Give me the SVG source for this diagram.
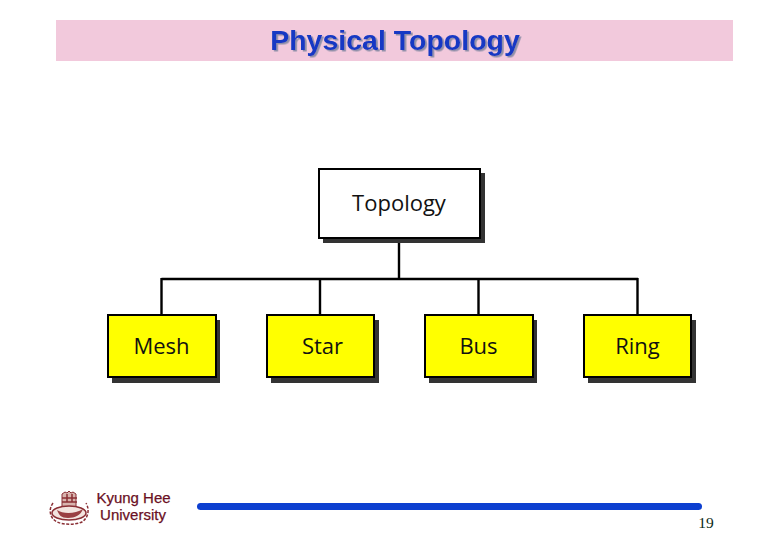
<svg xmlns="http://www.w3.org/2000/svg" width="780" height="540" viewBox="0 0 780 540">
<defs>
<filter id="titleShadow" x="-5%" y="-20%" width="110%" height="150%">
<feDropShadow dx="1.800" dy="1.500" stdDeviation="0.300" flood-color="#8f8fa8"/>
</filter>
</defs>
<style>
.shadow{fill:#333}
.box{stroke:#000;stroke-width:2}
.yellow{fill:#ffff00}
.label{font-family:"Open Sans","Noto Sans",sans-serif;font-size:22px;fill:#111;text-anchor:middle}
.wire{stroke:#000;stroke-width:2.4;fill:none}
.uni{font-family:"Liberation Sans",Arial,sans-serif;font-size:15px;fill:#6a1024;stroke:#6a1024;stroke-width:.25;text-anchor:middle}
.title{font-family:"Liberation Sans",Arial,sans-serif;font-size:28.500px;font-weight:700;text-anchor:middle;fill:#1438c4;filter:url(#titleShadow)}
.crest{fill:none;stroke:#8a2f35;stroke-width:1.500}
</style>
<rect width="780" height="540" fill="#fff"/>
<rect x="56" y="20" width="677" height="41" fill="#f2c9dc"/>
<text class="title" x="395" y="50">Physical Topology</text>
<g id="connectors">
<path class="wire" d="M399 238V279M161.500 279H638M161.500 278V315M320 278V315M478.500 278V315M637.500 278V315"/>
</g>
<g id="node-topology">
<rect class="shadow" x="323" y="173" width="162" height="70"/>
<rect class="box" x="319" y="169" width="161" height="69" fill="#fff"/>
<text class="label" x="399" y="211">Topology</text>
</g>
<g id="node-mesh">
<rect class="shadow" x="112" y="320" width="108" height="63"/>
<rect class="box yellow" x="108" y="315" width="108" height="62"/>
<text class="label" x="161.500" y="353.500">Mesh</text>
</g>
<g id="node-star">
<rect class="shadow" x="271" y="320" width="108" height="63"/>
<rect class="box yellow" x="267" y="315" width="107" height="62"/>
<text class="label" x="322.500" y="353.500">Star</text>
</g>
<g id="node-bus">
<rect class="shadow" x="429" y="320" width="108" height="63"/>
<rect class="box yellow" x="425" y="315" width="108" height="62"/>
<text class="label" x="478.500" y="353.500">Bus</text>
</g>
<g id="node-ring">
<rect class="shadow" x="588" y="320" width="108" height="63"/>
<rect class="box yellow" x="584" y="315" width="107" height="62"/>
<text class="label" x="637.500" y="353.500">Ring</text>
</g>
<g id="logo">
<path d="M62 508V494l3-2 2 1 2-2 2 2 2-1 3 2v14z" fill="#d8b4ae" stroke="#8a2f35"/>
<path class="crest" d="M62 498h15M62 502h15M67 494v8M72 494v8"/>
<ellipse cx="69" cy="513" rx="17" ry="7" fill="#f3e4df" stroke="#8a2f35" stroke-width="1.500"/>
<path d="M57 510c6 4 18 4 26-1-2 6-8 9-15 9s-9-3-11-8z" fill="#9a3f42"/>
<path class="crest" stroke-dasharray="3 1.500" d="M53 503c-5 7-3 15 4 19 7 3 18 3 25 0 6-4 8-12 4-19"/>
</g>
<g id="university">
<text class="uni" x="133.500" y="503">Kyung Hee</text>
<text class="uni" x="133" y="520">University</text>
</g>
<rect x="197" y="503" width="505" height="7" rx="3.500" fill="#0d3fd0"/>
<text x="706" y="528" font-family="Liberation Serif,serif" font-size="15.500" fill="#0c2a14" text-anchor="middle">19</text>
</svg>
